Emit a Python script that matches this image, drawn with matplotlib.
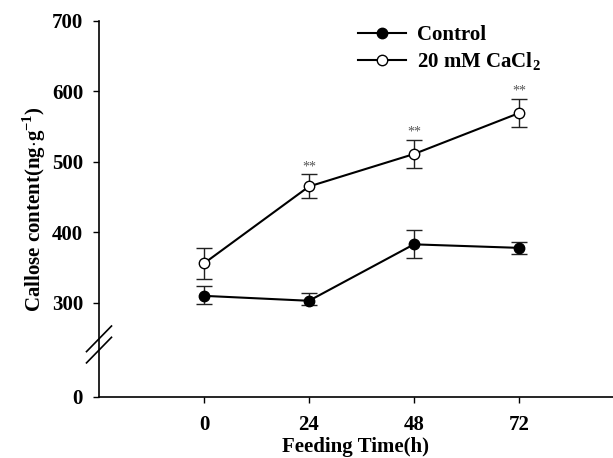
import numpy as np
import matplotlib
matplotlib.use("Agg")
import matplotlib.pyplot as plt
from matplotlib.lines import Line2D

plt.rcParams['font.family'] = ['Liberation Serif', 'DejaVu Serif']
plt.rcParams['font.weight'] = 'bold'
plt.rcParams['mathtext.fontset'] = 'custom'
plt.rcParams['mathtext.rm'] = 'Liberation Serif:bold'
plt.rcParams['mathtext.bf'] = 'Liberation Serif:bold'

# data
hours = [0, 24, 48, 72]
control = [310, 303, 383, 378]
control_err = [14, 11, 20, 9]
cacl2 = [356, 465, 511, 569]
cacl2_err = [22, 17, 20, 20]
signif = ['', '**', '**', '**']
y_ticks = [0, 300, 400, 500, 600, 700]

# broken y axis: values below 300 are squeezed
BREAK = 300.0
SQUEEZE = 0.4433


def fwd(v):
    v = np.asarray(v, dtype=float)
    return np.where(v >= BREAK, v, BREAK - (BREAK - v) * SQUEEZE)


def inv(v):
    v = np.asarray(v, dtype=float)
    return np.where(v >= BREAK, v, BREAK - (BREAK - v) / SQUEEZE)


FS = 15
fig = plt.figure(figsize=(6.13, 4.58), dpi=100)
ax = fig.add_axes([0.1615, 0.1338, 0.8385, 0.821])
ax.set_yscale('function', functions=(fwd, inv))

ax.errorbar(hours, control, yerr=control_err, color='black', marker='o',
            markersize=7.5, markerfacecolor='black', lw=1.5, capsize=5.5,
            elinewidth=1.0, capthick=1.0, ecolor='#222222')
ax.errorbar(hours, cacl2, yerr=cacl2_err, color='black', marker='o',
            markersize=7.5, markerfacecolor='white', markeredgewidth=1.0,
            lw=1.5, capsize=5.5, elinewidth=1.0, capthick=1.0, ecolor='#222222')

for x, y, e, s in zip(hours, cacl2, cacl2_err, signif):
    if s:
        ax.annotate(s, (x, y + e), xytext=(0, 1), textcoords='offset points',
                    ha='center', va='bottom', fontsize=10, color='#555555',
                    fontweight='normal')

ax.set_xlim(-24, 93.5)
ax.set_ylim(0, 700)
ax.set_xticks(hours)
ax.set_yticks(y_ticks)
ax.yaxis.set_minor_locator(plt.NullLocator())
ax.tick_params(direction='out', length=4.5, width=1, labelsize=FS)
ax.tick_params(axis='x', pad=9)
ax.tick_params(axis='y', pad=7)
for lab in ax.get_xticklabels() + ax.get_yticklabels():
    lab.set_fontweight('bold')

ax.spines['top'].set_visible(False)
ax.spines['right'].set_visible(False)
ax.spines['left'].set_linewidth(1.2)
ax.spines['bottom'].set_linewidth(1.2)

ax.set_xlabel('Feeding Time(h)', fontsize=FS, fontweight='bold', labelpad=1)
ax.set_ylabel(r'Callose content(ng$\cdot$g$^{-1}$)', fontsize=FS,
              fontweight='bold', labelpad=3)

# break marks on the y axis
dx, dy = 0.0243, 0.034
for yc in (0.154, 0.124):
    ax.plot([-dx, dx], [yc - dy, yc + dy], transform=ax.transAxes,
            color='black', lw=1.2, clip_on=False)

handles = [
    Line2D([], [], color='black', lw=1.5, marker='o', markersize=7.5,
           markerfacecolor='black'),
    Line2D([], [], color='black', lw=1.5, marker='o', markersize=7.5,
           markerfacecolor='white', markeredgewidth=1.0),
]
ax.legend(handles, ['Control', r'20 mM CaCl$_2$'], loc='upper left',
          bbox_to_anchor=(358 / 613, 1 - 25 / 458),
          bbox_transform=fig.transFigure, frameon=False, borderpad=0,
          borderaxespad=0, handlelength=2.3, handletextpad=0.55,
          labelspacing=0.25, prop={'weight': 'bold', 'size': FS})

fig.savefig('out.png', dpi=100)
